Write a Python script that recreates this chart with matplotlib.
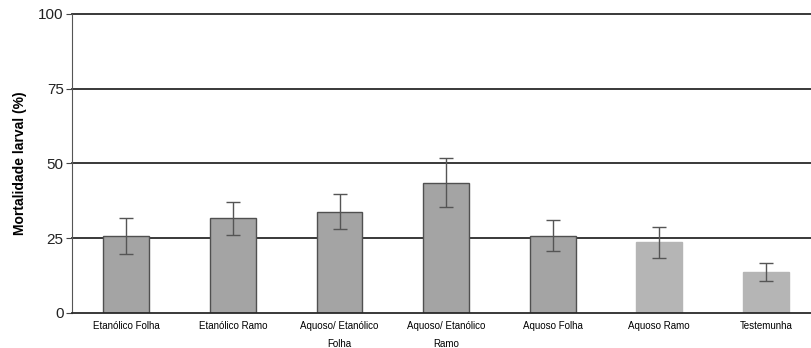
import matplotlib
matplotlib.use("Agg")
import matplotlib.pyplot as plt

plt.rcParams['font.family'] = ['Liberation Sans', 'DejaVu Sans']

categorias = ["Etanólico Folha", "Etanólico Ramo", "Aquoso/ Etanólico\nFolha",
              "Aquoso/ Etanólico\nRamo", "Aquoso Folha", "Aquoso Ramo", "Testemunha"]
mortalidade = [25.8, 31.6, 33.9, 43.6, 25.9, 23.6, 13.8]
erro = [6.0, 5.4, 5.9, 8.3, 5.1, 5.3, 3.0]
cores = ["#a4a4a4"] * 5 + ["#b5b5b5"] * 2
bordas = ["#505050"] * 5 + ["#b5b5b5"] * 2

fig = plt.figure(figsize=(8.12, 3.48), dpi=100)
ax = fig.add_axes([0.0887, 0.1006, 0.92, 0.8594])

for y in [25, 50, 75, 100]:
    ax.axhline(y, color="#2a2a2a", lw=1.3, zorder=1, clip_on=False)

x = range(len(categorias))
ax.bar(x, mortalidade, width=0.43, color=cores, edgecolor=bordas, linewidth=1.0, zorder=2)
ax.errorbar(x, mortalidade, yerr=erro, fmt="none", ecolor="#555555",
            elinewidth=1.0, capsize=5, capthick=1.0, zorder=3)

ax.set_xlim(-0.51, 6.5)
ax.set_ylim(0, 100)
ax.set_yticks([0, 25, 50, 75, 100])
ax.tick_params(axis="y", labelsize=11, length=4, color="#444444", pad=2, labelcolor="#222222")
ax.set_xticks(list(x))
ax.set_xticklabels(categorias, fontsize=7, linespacing=1.9)
ax.tick_params(axis="x", length=0, pad=6)
ax.set_ylabel("Mortalidade larval (%)", fontsize=10, fontweight="bold", labelpad=8)

for s in ["top", "right"]:
    ax.spines[s].set_visible(False)
ax.spines["left"].set_color("#555555")
ax.spines["bottom"].set_color("#2a2a2a")
ax.spines["bottom"].set_linewidth(1.3)

fig.savefig("out.png", dpi=100)
